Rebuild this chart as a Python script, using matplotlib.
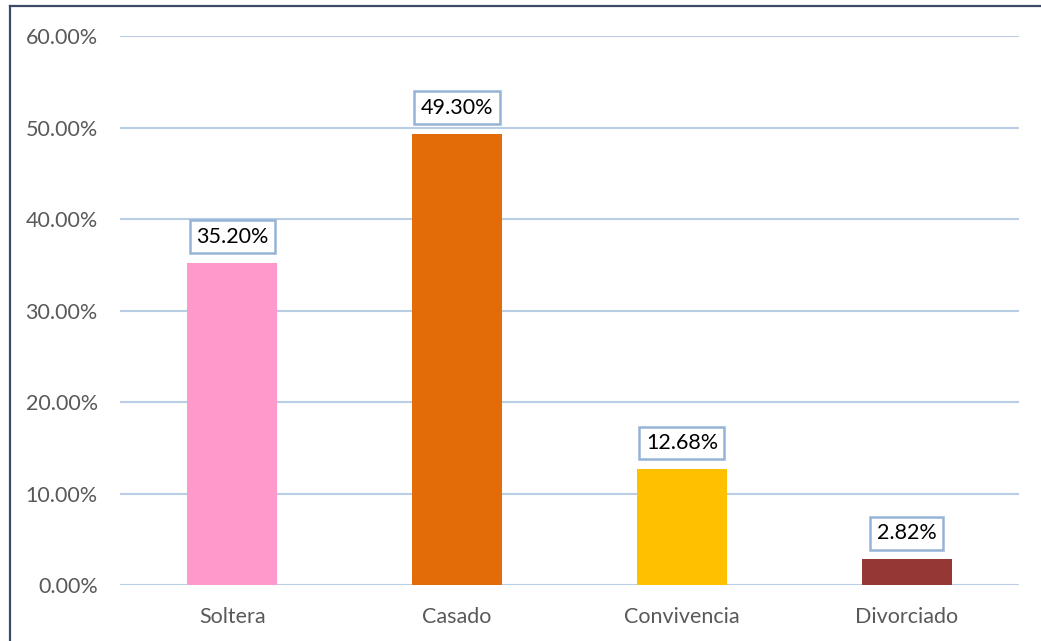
import matplotlib
matplotlib.use("Agg")
import matplotlib.pyplot as plt
from matplotlib.lines import Line2D
from matplotlib.ticker import FuncFormatter, MultipleLocator

categories = ["Soltera", "Casado", "Convivencia", "Divorciado"]
values = [35.20, 49.30, 12.68, 2.82]
colors = ["#FF99CC", "#E36C09", "#FFC000", "#953735"]

plt.rcParams["font.family"] = ["Lato", "DejaVu Sans"]

W, H = 1041, 641
fig = plt.figure(figsize=(W / 100, H / 100), dpi=100)
ax = fig.add_axes([120 / W, 1 - 585 / H, 899 / W, 549 / H])

x = range(len(categories))
ax.bar(x, values, width=0.4, color=colors, zorder=3)

ax.set_xlim(-0.5, len(categories) - 0.5)
ax.set_ylim(0, 60)
ax.yaxis.set_major_locator(MultipleLocator(10))
ax.yaxis.set_major_formatter(FuncFormatter(lambda v, _: f"{v:.2f}%"))
ax.set_xticks(list(x))
ax.set_xticklabels(categories)

ax.grid(axis="y", color="#B9CDE5", linewidth=1.5, zorder=0)
for s in ax.spines.values():
    s.set_visible(False)
ax.tick_params(axis="both", length=0, labelsize=15.5, labelcolor="#595959")
ax.tick_params(axis="y", pad=16)
ax.tick_params(axis="x", pad=16)

for xi, v in zip(x, values):
    ax.annotate(f"{v:.2f}%", xy=(xi, v), xytext=(0, 11.5), textcoords="offset points",
                ha="center", va="bottom", fontsize=15.5, color="black", zorder=4,
                bbox=dict(boxstyle="square,pad=0.3", facecolor="white",
                          edgecolor="#95B3D7", linewidth=1.8))

# Frame lines along the left and top of the figure
fig.add_artist(Line2D([9.5 / W, 9.5 / W], [0, 1 - 6 / H], transform=fig.transFigure,
                      color="#3B4A66", linewidth=1.6))
fig.add_artist(Line2D([9.5 / W, 1], [1 - 6 / H, 1 - 6 / H], transform=fig.transFigure,
                      color="#3B4A66", linewidth=1.6))

fig.savefig("out.png", dpi=100, facecolor="white")
